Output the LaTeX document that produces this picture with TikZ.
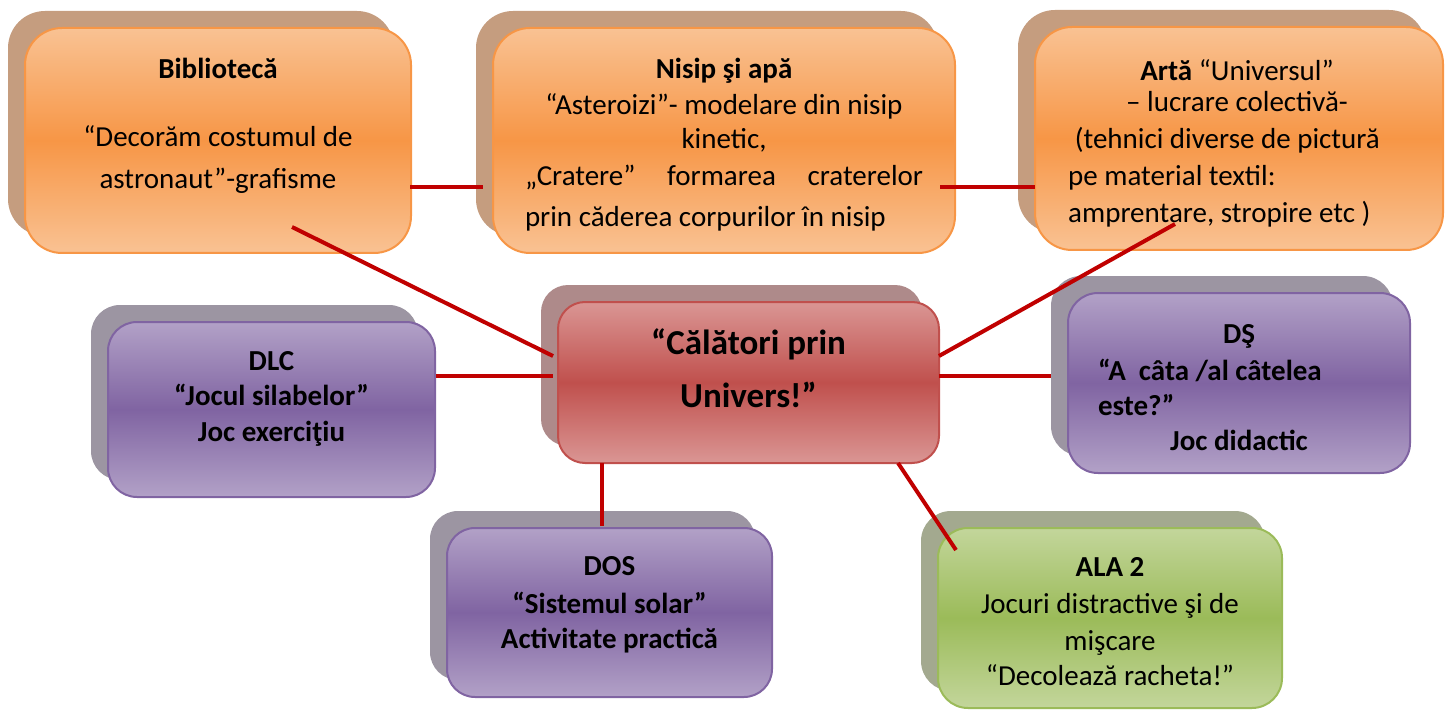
\documentclass[tikz,border=0pt]{standalone}
\usepackage{fontspec}
\setmainfont{Carlito}
\usetikzlibrary{shadows}
\definecolor{orTop}{HTML}{F9C293}
\definecolor{orMid}{HTML}{F79646}
\definecolor{orBd}{HTML}{F79646}
\definecolor{orSh}{HTML}{C59D7F}
\definecolor{puTop}{HTML}{B2A1C7}
\definecolor{puMid}{HTML}{8064A2}
\definecolor{puBd}{HTML}{8064A2}
\definecolor{puSh}{HTML}{9C95A2}
\definecolor{reTop}{HTML}{DA9694}
\definecolor{reMid}{HTML}{C0504D}
\definecolor{reBd}{HTML}{C0504D}
\definecolor{reSh}{HTML}{AE8A8A}
\definecolor{grTop}{HTML}{C3D69B}
\definecolor{grMid}{HTML}{9BBB59}
\definecolor{grBd}{HTML}{9BBB59}
\definecolor{grSh}{HTML}{A3A98F}
\definecolor{linkred}{HTML}{C00000}
\begin{document}
\begin{tikzpicture}[x=1pt,y=-1pt,
  box/.style={draw, line width=2pt, inner sep=0pt},
  obox/.style={box, draw=orBd, top color=orTop, bottom color=orTop, middle color=orMid,
    general shadow={fill=orSh, shadow xshift=-17pt, shadow yshift=17pt}},
  pbox/.style={box, draw=puBd, top color=puTop, bottom color=puTop, middle color=puMid,
    general shadow={fill=puSh, shadow xshift=-17pt, shadow yshift=17pt}},
  rbox/.style={box, draw=reBd, top color=reTop, bottom color=reTop, middle color=reMid,
    general shadow={fill=reSh, shadow xshift=-17pt, shadow yshift=17pt}},
  gbox/.style={box, draw=grBd, top color=grTop, bottom color=grTop, middle color=grMid,
    general shadow={fill=grSh, shadow xshift=-17pt, shadow yshift=17pt}},
  txt/.style={inner sep=0pt, anchor=north, align=center, font=\fontsize{29}{35.5}\selectfont},
  btxt/.style={txt, font=\fontsize{29}{35.5}\selectfont\bfseries},
  link/.style={draw=linkred, line width=4pt}
]
\useasboundingbox (0,0) rectangle (1447,711);

% boxes
\node[obox, minimum width=386pt, minimum height=225pt, rounded corners=37pt] (bib) at (218,140.5) {};
\node[obox, minimum width=462pt, minimum height=225pt, rounded corners=37pt] (nis) at (724,140.5) {};
\node[obox, minimum width=408pt, minimum height=223pt, rounded corners=37pt] (art) at (1239,138.5) {};
\node[pbox, minimum width=327pt, minimum height=175pt, rounded corners=29pt] (dlc) at (271.5,409.5) {};
\node[rbox, minimum width=381pt, minimum height=161pt, rounded corners=27pt] (ctr) at (748.5,382.5) {};
\node[pbox, minimum width=342pt, minimum height=180pt, rounded corners=30pt] (ds) at (1239,383) {};
\node[pbox, minimum width=325pt, minimum height=169pt, rounded corners=28pt] (dos) at (609.5,612.5) {};
\node[gbox, minimum width=344pt, minimum height=180pt, rounded corners=30pt] (ala) at (1110,618) {};

% texts
\node[txt] (bibT) at (218,53) {{\strut\bfseries Bibliotecă}\\[32.5pt] “Decorăm costumul de\\[6.5pt] astronaut”-grafisme};
\node[txt] (nisT) at (724,53) {{\strut\bfseries Nisip şi apă}\\[0.5pt] “Asteroizi”- modelare din nisip\\[-1.5pt] kinetic,\\[1.5pt] \hbox to 398pt{„Cratere”\hfill formarea\hfill craterelor}\\[5.5pt] \hbox to 398pt{prin căderea corpurilor în nisip\hfill}};
\node[txt] (artT1) at (1237,55) {{\strut\bfseries Artă} “Universul”\\[-4.5pt] – lucrare colectivă-};
\node[txt, anchor=north west, align=left] (artT2) at (1068,123) {\strut\hspace*{6.6pt}(tehnici diverse de pictură\\[1.5pt] pe material textil:\\[1.5pt] amprentare, stropire etc )};
\node[btxt] (dlcT) at (271.5,345) {\strut DLC\\ “Jocul silabelor”\\ Joc exerciţiu};
\node[txt, font=\fontsize{35}{53}\selectfont\bfseries] (ctrT) at (748.5,317) {\strut“Călători prin\\ Univers!”};
\node[btxt] (dsT) at (1239,318) {\strut DŞ\\[1.5pt] \hbox to 282pt{“A\ \ câta /al câtelea\hfill}\\[-0.5pt] \hbox to 282pt{este?”\hfill}\\[-0.5pt] Joc didactic};
\node[btxt] (dosT) at (609.5,550) {\strut DOS\\[2.5pt] “Sistemul solar”\\[-0.5pt] Activitate practică};
\node[txt] (alaT) at (1110,551) {{\strut\bfseries ALA 2}\\[1.5pt] Jocuri distractive şi de\\[1.5pt] mişcare\\[-0.5pt] “Decolează racheta!”};

% connector ends
\coordinate (bibR) at (410,187);
\coordinate (nisL) at (483,187);
\coordinate (nisR) at (940,187);
\coordinate (artL) at (1035,187);
\coordinate (bibD) at (292,227);
\coordinate (ctrUL) at (553,356);
\coordinate (dlcR) at (436,376);
\coordinate (ctrL) at (553,376);
\coordinate (ctrUR) at (939,356);
\coordinate (artD) at (1175,224);
\coordinate (ctrR) at (939,376);
\coordinate (dsL) at (1051,376);
\coordinate (ctrB) at (602,463);
\coordinate (dosT0) at (602,526);
\coordinate (ctrBR) at (898,463);
\coordinate (alaUL) at (956,550);

\draw[link] (bibR) -- (nisL);
\draw[link] (nisR) -- (artL);
\draw[link] (bibD) -- (ctrUL);
\draw[link] (dlcR) -- (ctrL);
\draw[link] (ctrUR) -- (artD);
\draw[link] (ctrR) -- (dsL);
\draw[link] (ctrB) -- (dosT0);
\draw[link] (ctrBR) -- (alaUL);
\end{tikzpicture}
\end{document}
